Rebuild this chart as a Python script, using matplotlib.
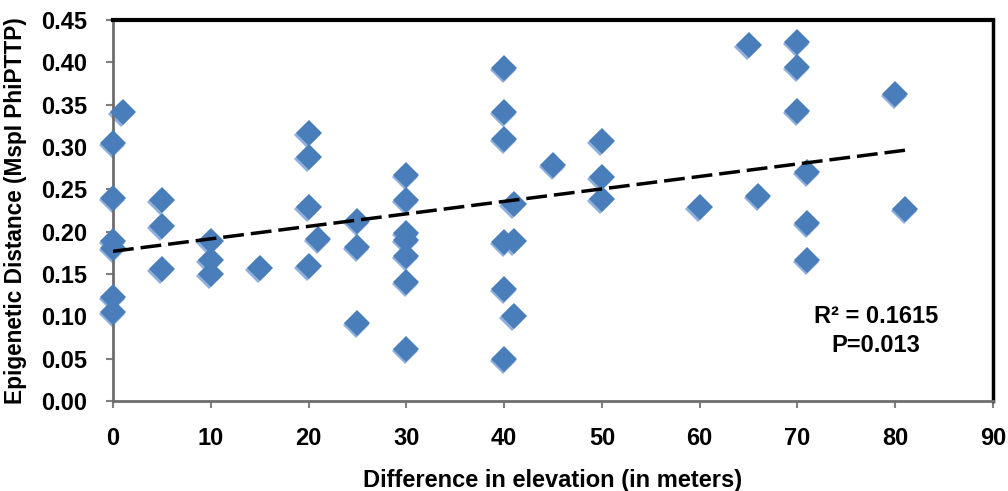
import numpy as np
import matplotlib
matplotlib.use("Agg")
import matplotlib.pyplot as plt
from matplotlib.transforms import offset_copy

# Data
elev = [1, 0, 0, 0, 0, 0, 0,
        5, 5, 5,
        10, 10, 10,
        15,
        20, 20, 20, 20, 21,
        25, 25, 25,
        30, 30, 30, 30, 30, 30, 30,
        40, 40, 40, 40, 40, 40, 41, 41, 41,
        45, 50, 50, 50,
        60, 65, 66,
        70, 70, 70, 71, 71, 71,
        80, 81]
dist = [0.341, 0.305, 0.240, 0.189, 0.181, 0.123, 0.105,
        0.237, 0.207, 0.156,
        0.189, 0.167, 0.150,
        0.157,
        0.316, 0.288, 0.229, 0.159, 0.191,
        0.213, 0.182, 0.092,
        0.267, 0.237, 0.198, 0.190, 0.171, 0.140, 0.062,
        0.393, 0.341, 0.310, 0.188, 0.132, 0.050, 0.233, 0.189, 0.100,
        0.279, 0.307, 0.264, 0.238,
        0.229, 0.420, 0.242,
        0.424, 0.395, 0.342, 0.270, 0.210, 0.166,
        0.363, 0.227]

x_ticks = [0, 10, 20, 30, 40, 50, 60, 70, 80, 90]
y_ticks = [0.00, 0.05, 0.10, 0.15, 0.20, 0.25, 0.30, 0.35, 0.40, 0.45]
annotation = "R\u00b2 = 0.1615\nP=0.013"

plt.rcParams['font.family'] = ['Liberation Sans', 'DejaVu Sans']

fig = plt.figure(figsize=(10.08, 4.91), dpi=100)
ax = fig.add_axes([113/1008, 90/491, 880/1008, 381/491])

x = np.array(elev, dtype=float)
y = np.array(dist, dtype=float)

# shadow
shadow_tr = offset_copy(ax.transData, fig=fig, x=-1.5, y=-2.0, units='dots')
ax.plot(x, y, linestyle='none', marker='D', markersize=12.8,
        color='#8fb0dc', markeredgewidth=0, transform=shadow_tr, zorder=2,
        clip_on=False)
ax.plot(x, y, linestyle='none', marker='D', markersize=12.8,
        color='#4a7ebb', markeredgewidth=0, zorder=3, clip_on=False)

# linear trendline
k, b = np.polyfit(x, y, 1)
xt = np.array([x.min(), x.max()])
ax.plot(xt, k * xt + b, color='black', linestyle=(0, (6, 2)), linewidth=2.5, zorder=4)

ax.set_xlim(0, 90)
ax.set_ylim(0, 0.45)
ax.set_xticks(x_ticks)
ax.set_yticks(y_ticks)
ax.set_xticklabels([str(t) for t in x_ticks], fontsize=17, fontweight='bold')
ax.set_yticklabels([f"{t:.2f}" for t in y_ticks], fontsize=17, fontweight='bold')
ax.tick_params(axis='both', direction='out', length=5, width=1.5, color='#808080')
ax.tick_params(axis='x', pad=13.5)
ax.tick_params(axis='y', pad=13.5)

for s in ['left', 'bottom']:
    ax.spines[s].set_color('#6e6e6e')
    ax.spines[s].set_linewidth(2)
ax.spines['top'].set_color('black')
ax.spines['top'].set_linewidth(3)
ax.spines['right'].set_color('black')
ax.spines['right'].set_linewidth(2.5)

ax.set_xlabel("Difference in elevation (in meters)", fontsize=17, fontweight='bold', labelpad=14)
ax.set_ylabel("Epigenetic Distance (MspI PhiPTTP)", fontsize=16.3, fontweight='bold', labelpad=10)

ax.text(78.0, 0.0827, annotation, fontsize=17, fontweight='bold',
        ha='center', va='center', linespacing=1.35)

fig.savefig("out.png", dpi=100)
